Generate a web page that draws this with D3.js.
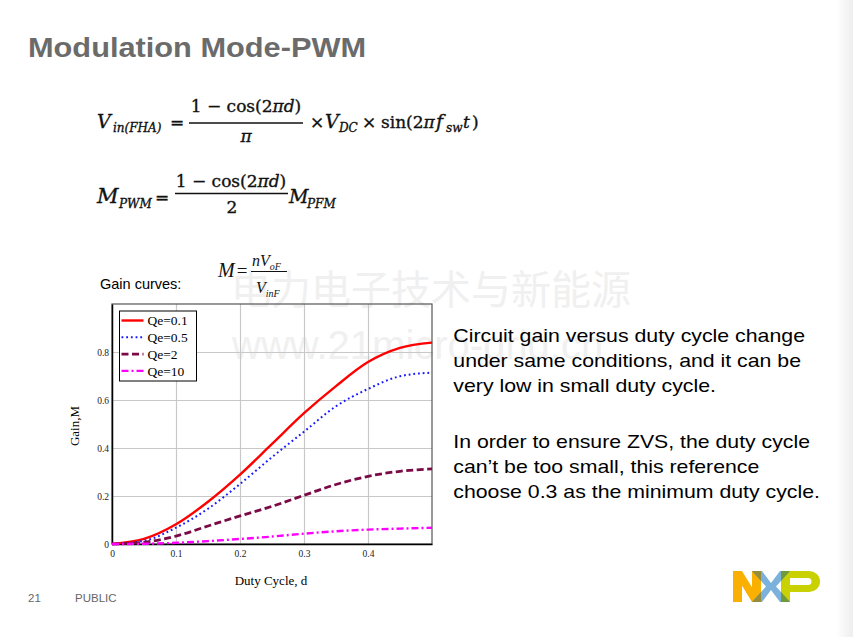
<!DOCTYPE html>
<html>
<head>
<meta charset="utf-8">
<script src="https://cdn.jsdelivr.net/npm/d3@7"></script>
<style>
  html, body { margin: 0; padding: 0; background: #fff; }
  svg { display: block; }
</style>
</head>
<body>
<div id="chart"></div>
<script>
const W = 853, H = 637;

// values
const dutyCycle = [0, 0.05, 0.1, 0.15, 0.2, 0.25, 0.3, 0.35, 0.4, 0.45, 0.5];
const gainQe01 = [0, 0.021, 0.082, 0.176, 0.289, 0.417, 0.545, 0.658, 0.758, 0.817, 0.839];
const gainQe05 = [0, 0.013, 0.068, 0.147, 0.25, 0.362, 0.468, 0.574, 0.646, 0.699, 0.714];
const gainQe2 = [0, 0.007, 0.033, 0.075, 0.117, 0.157, 0.203, 0.248, 0.282, 0.303, 0.313];
const gainQe10 = [0, 0.001, 0.005, 0.012, 0.021, 0.031, 0.043, 0.053, 0.06, 0.064, 0.068];
const seriesNames = ["Qe=0.1", "Qe=0.5", "Qe=2", "Qe=10"];
const xTicks = [0, 0.1, 0.2, 0.3, 0.4];
const yTicks = [0, 0.2, 0.4, 0.6, 0.8];
const noteLines = [
  "Circuit gain versus duty cycle change",
  "under same conditions, and it can be",
  "very low in small duty cycle.",
  "In order to ensure ZVS, the duty cycle",
  "can\u2019t be too small, this reference",
  "choose 0.3 as the minimum duty cycle."
];

const series = [gainQe01, gainQe05, gainQe2, gainQe10].map((vals, i) => ({
  name: seriesNames[i],
  points: vals.map((v, j) => [dutyCycle[j], v])
}));

// line styles per series
const styles = [
  { color: "#ff0000", width: 2.4, dash: null },
  { color: "#1818ff", width: 2, dash: "1.8,2.9" },
  { color: "#7a0a45", width: 2.8, dash: "7,3.5" },
  { color: "#ff00ff", width: 2.4, dash: "7,3,2,3" }
];

const svg = d3.select("#chart").append("svg")
  .attr("width", W).attr("height", H);
const defs = svg.append("defs");

// faint grey strip on the right edge of the slide
const grad = defs.append("linearGradient").attr("id", "edge");
grad.append("stop").attr("offset", "0").attr("stop-color", "#fff");
grad.append("stop").attr("offset", "1").attr("stop-color", "#eeeeee");
svg.append("rect").attr("x", 836).attr("y", 0).attr("width", 17).attr("height", H)
  .attr("fill", "url(#edge)");

// watermark
svg.append("text")
  .attr("x", 231).attr("y", 304)
  .style("font-family", "'Noto Sans CJK SC'")
  .style("font-size", "40px").attr("fill", "#f0f0f0")
  .text("电力电子技术与新能源");
svg.append("text")
  .attr("x", 232).attr("y", 359)
  .style("font-family", "'Liberation Sans', Arial")
  .style("font-size", "40px").attr("fill", "#f0f0f0")
  .text("www.21micro-grid.cn");

// title
svg.append("text")
  .attr("x", 28).attr("y", 57)
  .attr("textLength", 338).attr("lengthAdjust", "spacingAndGlyphs")
  .style("font-family", "'Liberation Sans', Arial")
  .style("font-size", "28px").style("font-weight", "bold")
  .attr("fill", "#6b6b6b")
  .text("Modulation Mode-PWM");

// formulas
const mathFont = "'DejaVu Serif', serif";
function mtext(x, y, str, opts = {}) {
  const t = svg.append("text")
    .attr("x", x).attr("y", y)
    .attr("text-anchor", opts.anchor || "start")
    .style("font-family", opts.font || mathFont)
    .style("font-size", (opts.size || 17) + "px")
    .style("font-style", opts.italic ? "italic" : "normal")
    .attr("fill", "#111")
    .text(str);
  if (opts.heavy !== false) t.attr("stroke", "#111").attr("stroke-width", 0.35);
  return t;
}
function fracBar(x1, x2, y, w) {
  svg.append("line").attr("x1", x1).attr("x2", x2).attr("y1", y).attr("y2", y)
    .attr("stroke", "#111").attr("stroke-width", w || 1.5);
}
function numerator(cx, y) {
  const t = svg.append("text").attr("x", cx).attr("y", y)
    .attr("text-anchor", "middle")
    .style("font-family", mathFont).style("font-size", "17px")
    .attr("fill", "#111").attr("stroke", "#111").attr("stroke-width", 0.35);
  t.append("tspan").text("1 \u2212 cos(2");
  t.append("tspan").style("font-style", "italic").text("\u03c0d");
  t.append("tspan").text(")");
}

// V_in(FHA)
mtext(97, 128, "V", { italic: true, size: 19 });
mtext(113, 132, "in(FHA)", { italic: true, size: 12 });
mtext(170, 128, "=");
numerator(246, 112);
fracBar(189, 303, 123);
mtext(246, 142, "\u03c0", { anchor: "middle", italic: true });
mtext(310, 128, "\u00d7");
mtext(325, 128, "V", { italic: true, size: 19 });
mtext(339, 132, "DC", { italic: true, size: 12 });
mtext(362, 128, "\u00d7");
const sinText = mtext(381, 128, "sin(2");
sinText.append("tspan").style("font-style", "italic").text("\u03c0");
mtext(436, 128, "f", { italic: true, size: 19 });
mtext(446, 132, "sw", { italic: true, size: 12 });
mtext(463, 128, "t", { italic: true });
mtext(472, 128, ")");

// M_PWM
mtext(97, 203, "M", { italic: true, size: 21 });
mtext(119, 207.5, "PWM", { italic: true, size: 12 });
mtext(155, 203, "=");
numerator(231, 187);
fracBar(175, 288, 193.5);
mtext(232, 213, "2", { anchor: "middle" });
mtext(289, 203, "M", { italic: true, size: 19 });
mtext(307, 207.5, "PFM", { italic: true, size: 12 });

// gain definition
svg.append("text")
  .attr("x", 100).attr("y", 289)
  .style("font-family", "'Liberation Sans', Arial").style("font-size", "14.5px")
  .attr("fill", "#000").text("Gain curves:");
const tnr = "'Liberation Serif', 'Times New Roman', serif";
const gainEq = mtext(218, 277, "M", { italic: true, font: tnr, size: 20, heavy: false });
gainEq.append("tspan").attr("dx", 2).style("font-style", "normal").style("font-size", "19px").text("=");
const numGain = mtext(252, 266, "nV", { italic: true, font: tnr, size: 16, heavy: false });
numGain.append("tspan").attr("dy", 3.5).style("font-size", "10px").text("oF");
fracBar(251, 287, 271.5, 1);
const denGain = mtext(256, 293, "V", { italic: true, font: tnr, size: 16, heavy: false });
denGain.append("tspan").attr("dy", 4).style("font-size", "10px").text("inF");

// chart
const plot = { left: 112, right: 432, top: 304, bottom: 544 };
const x = d3.scaleLinear().domain([0, 0.5]).range([plot.left, plot.right]);
const y = d3.scaleLinear().domain([0, 1]).range([plot.bottom, plot.top]);

const g = svg.append("g");

// grid
g.append("g")
  .attr("transform", `translate(0,${plot.bottom})`)
  .call(d3.axisBottom(x).tickValues(xTicks.slice(1)).tickSize(-(plot.bottom - plot.top)).tickFormat(""))
  .call(s => s.select(".domain").remove())
  .selectAll("line").attr("stroke", "#c8c8c8").attr("stroke-width", 1.2);
g.append("g")
  .attr("transform", `translate(${plot.left},0)`)
  .call(d3.axisLeft(y).tickValues(yTicks.slice(1)).tickSize(-(plot.right - plot.left)).tickFormat(""))
  .call(s => s.select(".domain").remove())
  .selectAll("line").attr("stroke", "#c8c8c8").attr("stroke-width", 1.2);

// frame
g.append("rect")
  .attr("x", plot.left).attr("y", plot.top)
  .attr("width", plot.right - plot.left).attr("height", plot.bottom - plot.top)
  .attr("fill", "none").attr("stroke", "#555").attr("stroke-width", 1.2);

// axes
const xAxis = g.append("g")
  .attr("transform", `translate(0,${plot.bottom})`)
  .call(d3.axisBottom(x).tickValues(xTicks).tickSize(0).tickPadding(6)
    .tickFormat(d => d === 0 ? "0" : d3.format(".1f")(d)));
const yAxis = g.append("g")
  .attr("transform", `translate(${plot.left},0)`)
  .call(d3.axisLeft(y).tickValues(yTicks).tickSize(0).tickPadding(3)
    .tickFormat(d => d === 0 ? "0" : d3.format(".1f")(d)));
[xAxis, yAxis].forEach(a => {
  a.select(".domain").attr("stroke", "#000").attr("stroke-width", 1.5);
  a.selectAll("text").style("font-family", tnr).style("font-size", "9.5px").attr("fill", "#222");
});

// axis titles
g.append("text")
  .attr("x", 271).attr("y", 585).attr("text-anchor", "middle")
  .style("font-family", tnr).style("font-size", "13px").attr("fill", "#000")
  .text("Duty Cycle, d");
g.append("text")
  .attr("transform", "translate(79,426) rotate(-90)").attr("text-anchor", "middle")
  .style("font-family", tnr).style("font-size", "13px").attr("fill", "#000")
  .text("Gain,M");

// curves
const line = d3.line()
  .x(d => x(d[0]))
  .y(d => y(d[1]))
  .curve(d3.curveMonotoneX);

g.selectAll(".curve")
  .data(series)
  .join("path")
  .attr("class", "curve")
  .attr("d", d => line(d.points))
  .attr("fill", "none")
  .attr("stroke", (d, i) => styles[i].color)
  .attr("stroke-width", (d, i) => styles[i].width)
  .attr("stroke-dasharray", (d, i) => styles[i].dash);

// legend
const legend = g.append("g");
legend.append("rect")
  .attr("x", 119.5).attr("y", 311).attr("width", 77).attr("height", 70)
  .attr("fill", "#fff").attr("stroke", "#000").attr("stroke-width", 1);
const rows = legend.selectAll(".row")
  .data(series)
  .join("g")
  .attr("class", "row")
  .attr("transform", (d, i) => `translate(0,${320.5 + i * 16.8})`);
rows.append("line")
  .attr("x1", 121.5).attr("x2", 143.5).attr("y1", 0).attr("y2", 0)
  .attr("stroke", (d, i) => styles[i].color)
  .attr("stroke-width", (d, i) => styles[i].width)
  .attr("stroke-dasharray", (d, i) => styles[i].dash);
rows.append("text")
  .attr("x", 147.5).attr("y", 0).attr("dy", "0.35em")
  .style("font-family", tnr).style("font-size", "13.5px").attr("fill", "#000")
  .text(d => d.name);

// notes on the right
const noteY = [341.7, 366.7, 391.7, 448.3, 473.3, 498.3];
const noteW = [351.7, 347.7, 262.7, 356.7, 306, 366.7];
svg.selectAll(".note")
  .data(noteLines)
  .join("text")
  .attr("class", "note")
  .attr("x", 453.3)
  .attr("y", (d, i) => noteY[i])
  .attr("textLength", (d, i) => noteW[i])
  .attr("lengthAdjust", "spacingAndGlyphs")
  .style("font-family", "'Liberation Sans', Arial")
  .style("font-size", "19px")
  .attr("fill", "#000")
  .text(d => d);

// footer
svg.append("text").attr("x", 28).attr("y", 602)
  .style("font-family", "'Liberation Sans', Arial").style("font-size", "11.5px")
  .attr("fill", "#666").text("21");
svg.append("text").attr("x", 75).attr("y", 602)
  .style("font-family", "'Liberation Sans', Arial").style("font-size", "11.5px")
  .attr("fill", "#666").text("PUBLIC");

// NXP logo
const logo = svg.append("g").attr("transform", "translate(733,571)");
const xShape = "M19,0 H29 L38,12 L47,0 H57 L43,15.5 L57,31 H47 L38,19 L29,31 H19 L33,15.5 Z";
defs.append("clipPath").attr("id", "nbar").append("rect").attr("x", 19).attr("y", 0).attr("width", 9).attr("height", 31);
defs.append("clipPath").attr("id", "pbar").append("rect").attr("x", 48).attr("y", 0).attr("width", 9).attr("height", 31);
logo.append("path").attr("d", "M0,0 H9 V31 H0 Z M0,0 H9 L28,31 H19 Z M19,0 H28 V31 H19 Z").attr("fill", "#f9b000");
logo.append("path")
  .attr("d", "M48,0 H76 A11,10.5 0 0 1 76,21 H57 V31 H48 Z M57,7 H75 A3.5,3.5 0 0 1 75,14 H57 Z")
  .attr("fill-rule", "evenodd").attr("fill", "#c9d200");
logo.append("path").attr("d", xShape).attr("fill", "#7bb1db");
logo.append("path").attr("d", xShape).attr("fill", "#958c3c").attr("clip-path", "url(#nbar)");
logo.append("path").attr("d", xShape).attr("fill", "#6f9a37").attr("clip-path", "url(#pbar)");
</script>
</body>
</html>
